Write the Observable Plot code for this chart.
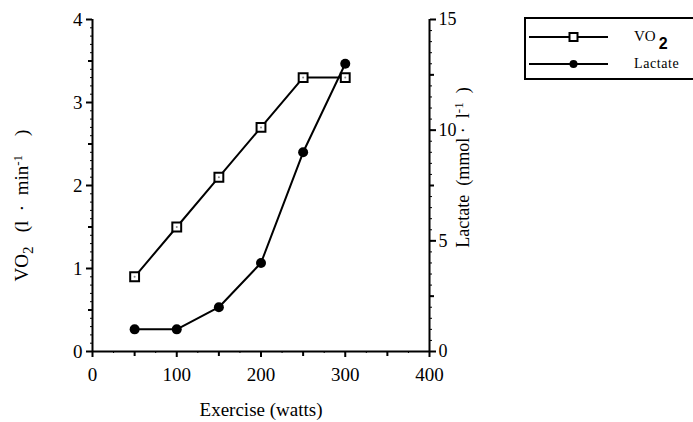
<!DOCTYPE html>
<html>
<head>
<meta charset="utf-8">
<script src="https://cdn.jsdelivr.net/npm/d3@7"></script>
<script src="https://cdn.jsdelivr.net/npm/@observablehq/plot@0.6"></script>
<style>
  html, body { margin: 0; padding: 0; background: #fff; overflow: hidden; }
  #wrap { position: relative; width: 693px; height: 422px; }
  #legend { position: absolute; left: 524px; top: 17px; width: 180px; height: 63px;
            border: 2px solid #000; box-sizing: border-box; background: #fff; }
  #legend svg { position: absolute; left: 0; top: 0; }
</style>
</head>
<body>
<div id="wrap"></div>
<script>
// ---- data ----
const watts   = [50, 100, 150, 200, 250, 300];
const vo2     = [0.9, 1.5, 2.1, 2.7, 3.3, 3.3];   // l/min
const lactate = [1, 1, 2, 4, 9, 13];              // mmol/l
const xTicks  = [0, 100, 200, 300, 400];
const leftTicks  = [0, 1, 2, 3, 4];
const rightTicks = [0, 5, 10, 15];
const seriesNames = ["VO2", "Lactate"];

const rows = watts.map((w, i) => ({w, vo2: vo2[i], lac: lactate[i]}));
const L = 4 / 15; // lactate -> VO2 axis conversion
const font = "Liberation Serif, Times New Roman, serif";

const chart = Plot.plot({
  width: 693, height: 422,
  marginLeft: 92, marginRight: 264, marginTop: 19, marginBottom: 71,
  x: {domain: [0, 400]},
  y: {domain: [0, 4]},
  style: {fontFamily: font, fontSize: "19px", color: "#000", background: "#fff"},
  marks: [
    // left axis
    Plot.axisY({anchor: "left", ticks: leftTicks, tickFormat: d => String(d), tickSize: 6, tickPadding: 4, strokeWidth: 2,
                label: "VO2 (l · min-1 )", labelAnchor: "center", labelArrow: "none", labelOffset: 78,
                fontSize: 19}),
    Plot.axisY({anchor: "left", ticks: d3.range(0.5, 4, 1), tickSize: 4, strokeWidth: 2, tickFormat: () => "", label: null}),
    Plot.axisY({anchor: "left", ticks: d3.range(0, 41).map(i => i / 10), tickSize: 2, strokeWidth: 1, tickFormat: () => "", label: null}),
    // right axis (lactate)
    Plot.axisY({anchor: "right", ticks: rightTicks.map(v => v * L), tickFormat: d => String(Math.round(d / L)),
                tickSize: 6, tickPadding: 3, strokeWidth: 2,
                label: "Lactate (mmol · l-1 )", labelAnchor: "center", labelArrow: "none", labelOffset: 39,
                fontSize: 18}),
    Plot.axisY({anchor: "right", ticks: [2.5, 7.5, 12.5].map(v => v * L), tickSize: 4, strokeWidth: 2, tickFormat: () => "", label: null}),
    Plot.axisY({anchor: "right", ticks: d3.range(0, 31).map(i => i * 0.5 * L), tickSize: 2, strokeWidth: 1, tickFormat: () => "", label: null}),
    // x axis
    Plot.axisX({ticks: xTicks, tickSize: 6, tickPadding: 10, strokeWidth: 2,
                label: "Exercise (watts)", labelAnchor: "center", labelArrow: "none", labelOffset: 64, fontSize: 19}),
    Plot.axisX({ticks: d3.range(50, 400, 100), tickSize: 5, strokeWidth: 2, tickFormat: () => "", label: null}),
    Plot.axisX({ticks: d3.range(0, 401, 25), tickSize: 2, strokeWidth: 1, tickFormat: () => "", label: null}),
    // frame lines
    Plot.ruleX([0], {stroke: "#000", strokeWidth: 2}),
    Plot.ruleX([400], {stroke: "#000", strokeWidth: 2}),
    Plot.ruleY([0], {stroke: "#000", strokeWidth: 2}),
    // VO2 series
    Plot.line(rows, {x: "w", y: "vo2", stroke: "#000", strokeWidth: 2}),
    Plot.dot(rows, {x: "w", y: "vo2", symbol: "square", r: 5, fill: "#fff", stroke: "#000", strokeWidth: 2}),
    Plot.dot(rows, {x: "w", y: "vo2", r: 1, fill: "#888"}),
    // Lactate series
    Plot.line(rows, {x: "w", y: d => d.lac * L, stroke: "#000", strokeWidth: 2}),
    Plot.dot(rows, {x: "w", y: d => d.lac * L, r: 5, fill: "#000"})
  ]
});
document.getElementById("wrap").appendChild(chart);

// sub/superscripts in axis labels
function richLabel(prefix, parts, dx) {
  d3.select(chart).selectAll("text").filter(function() {
    return this.textContent.trim().startsWith(prefix);
  }).each(function() {
    const el = d3.select(this);
    el.text(null);
    parts.forEach(([s, shift, size], k) => {
      const ts = el.append("tspan").text(s);
      if (shift) ts.attr("baseline-shift", shift);
      if (size) ts.attr("font-size", size);
      if (k === 0 && dx) ts.attr("dx", dx);
    });
  });
}
richLabel("VO2", [["VO"], ["2", "-30%", "15px"], ["\u00a0\u00a0\u00a0(l\u00a0\u00a0·\u00a0\u00a0min"], ["-1", "45%", "13px"], ["\u00a0\u00a0\u00a0\u00a0)"]], -20);
richLabel("Lactate", [["Lactate\u00a0\u00a0(mmol\u00a0·\u00a0\u00a0l"], ["-1", "45%", "13px"], ["\u00a0\u00a0)"]], 18);

// legend
const legend = d3.select("#wrap").append("div").attr("id", "legend");
const lsvg = legend.append("svg").attr("width", 180).attr("height", 60)
  .style("font-family", font);
const lys = [18, 45];
seriesNames.forEach((name, i) => {
  const y = lys[i];
  lsvg.append("line").attr("x1", 3).attr("x2", 82).attr("y1", y).attr("y2", y)
    .attr("stroke", "#000").attr("stroke-width", 2);
  if (i === 0) {
    lsvg.append("rect").attr("x", 43.5).attr("y", y - 4).attr("width", 8).attr("height", 8)
      .attr("fill", "#fff").attr("stroke", "#000").attr("stroke-width", 2);
  } else {
    lsvg.append("circle").attr("cx", 47.5).attr("cy", y).attr("r", 4).attr("fill", "#000");
  }
  const tx = lsvg.append("text").attr("x", 108).attr("y", y + 4).attr("font-size", i === 0 ? "15px" : "14px");
  if (i === 0) {
    tx.append("tspan").text("VO");
    tx.append("tspan").attr("dx", 3).attr("dy", 8).attr("font-size", "16px").attr("font-family", "Liberation Sans, Arial, sans-serif").attr("font-weight", "bold").text("2");
  } else {
    tx.attr("letter-spacing", "0.6px").text(name);
  }
});
</script>
</body>
</html>
